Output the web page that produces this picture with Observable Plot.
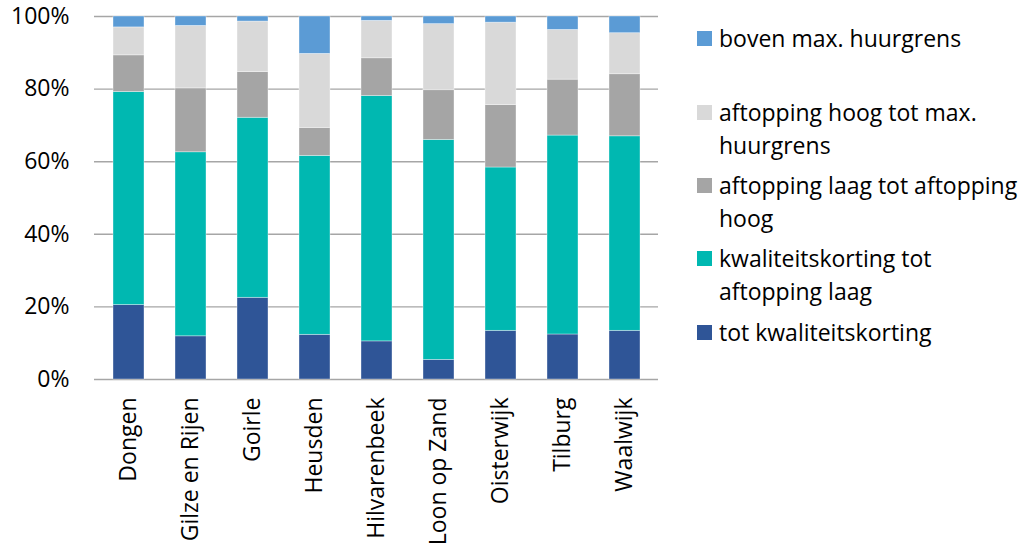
<!DOCTYPE html>
<html>
<head>
<meta charset="utf-8">
<script src="https://cdn.jsdelivr.net/npm/d3@7"></script>
<script src="https://cdn.jsdelivr.net/npm/@observablehq/plot@0.6"></script>
<style>
  html, body { margin: 0; padding: 0; background: #fff; }
  #wrap { position: relative; width: 1024px; height: 545px; font-family: "Open Sans", sans-serif; color: #000; }
  #chart { position: absolute; left: 0; top: 0; }
  .leg { position: absolute; left: 697px; font-size: 23px; line-height: 33px; }
  .leg .sw { position: absolute; left: 0; top: 9px; width: 15px; height: 15px; }
  .leg .tx { position: absolute; left: 22px; top: 0; white-space: nowrap; }
</style>
</head>
<body>
<div id="wrap"><div id="chart"></div></div>
<script>
// Municipalities on the x axis
const towns = ["Dongen", "Gilze en Rijen", "Goirle", "Heusden", "Hilvarenbeek",
               "Loon op Zand", "Oisterwijk", "Tilburg", "Waalwijk"];

// Rent classes, from bottom of the stack to top
const series = ["tot kwaliteitskorting", "kwaliteitskorting tot aftopping laag",
                "aftopping laag tot aftopping hoog", "aftopping hoog tot max. huurgrens",
                "boven max. huurgrens"];
const colors = ["#2F5597", "#00B8B1", "#A5A5A5", "#D9D9D9", "#5B9BD5"];

// Share (%) of each rent class per municipality
const totKwaliteitskorting = [20.5, 11.9, 22.5, 12.3, 10.5, 5.4, 13.4, 12.4, 13.4];
const kwaliteitsTotLaag    = [58.7, 50.7, 49.6, 49.3, 67.6, 60.6, 45.0, 54.8, 53.6];
const laagTotHoog          = [10.1, 17.6, 12.6,  7.7, 10.4, 13.7, 17.2, 15.4, 17.1];
const hoogTotMax           = [ 7.7, 17.2, 13.9, 20.4, 10.3, 18.2, 22.7, 13.7, 11.3];
const bovenMax             = [ 3.0,  2.6,  1.4, 10.3,  1.2,  2.1,  1.7,  3.7,  4.6];

const yTicks = [0, 20, 40, 60, 80, 100];

// Legend text, broken over lines as in the layout
const legendLines = {
  "boven max. huurgrens": ["boven max. huurgrens"],
  "aftopping hoog tot max. huurgrens": ["aftopping hoog tot max.", "huurgrens"],
  "aftopping laag tot aftopping hoog": ["aftopping laag tot aftopping", "hoog"],
  "kwaliteitskorting tot aftopping laag": ["kwaliteitskorting tot", "aftopping laag"],
  "tot kwaliteitskorting": ["tot kwaliteitskorting"]
};

const valuesBySeries = [totKwaliteitskorting, kwaliteitsTotLaag, laagTotHoog, hoogTotMax, bovenMax];
const rows = [];
series.forEach((s, si) => {
  towns.forEach((t, ti) => rows.push({town: t, series: s, value: valuesBySeries[si][ti]}));
});

const gridColor = "#A6A6A6";

const chart = Plot.plot({
  width: 680,
  height: 545,
  marginLeft: 94,
  marginRight: 22,
  marginTop: 16,
  marginBottom: 166,
  style: {fontFamily: "Open Sans, sans-serif", fontSize: "23px", color: "#000", background: "#fff"},
  x: {domain: towns, paddingInner: 0.5, paddingOuter: 0.25, label: null},
  y: {domain: [0, 100], label: null},
  color: {domain: series, range: colors},
  marks: [
    Plot.gridY(yTicks, {stroke: gridColor, strokeOpacity: 1, strokeWidth: 1.4}),
    Plot.barY(rows, Plot.stackY({
      x: "town", y: "value", fill: "series",
      order: series,
      stroke: "#fff", strokeOpacity: 0.45, strokeWidth: 0.8
    })),
    Plot.axisY(yTicks, {tickSize: 0, tickPadding: 25, tickFormat: d => d + "%", fontSize: 23, label: null}),
    Plot.axisX({tickRotate: -90, tickSize: 0, tickPadding: 18, fontSize: 23, label: null})
  ]
});
document.getElementById("chart").appendChild(chart);

// Legend beside the plot, top entry is the top of the stack
const wrap = document.getElementById("wrap");
const legendTops = [21.5, 95.5, 168.5, 241.5, 315.5];
series.slice().reverse().forEach((s, i) => {
  const item = document.createElement("div");
  item.className = "leg";
  item.style.top = legendTops[i] + "px";
  const sw = document.createElement("div");
  sw.className = "sw";
  sw.style.background = colors[series.indexOf(s)];
  const tx = document.createElement("div");
  tx.className = "tx";
  tx.innerHTML = legendLines[s].join("<br>");
  item.appendChild(sw);
  item.appendChild(tx);
  wrap.appendChild(item);
});
</script>
</body>
</html>
